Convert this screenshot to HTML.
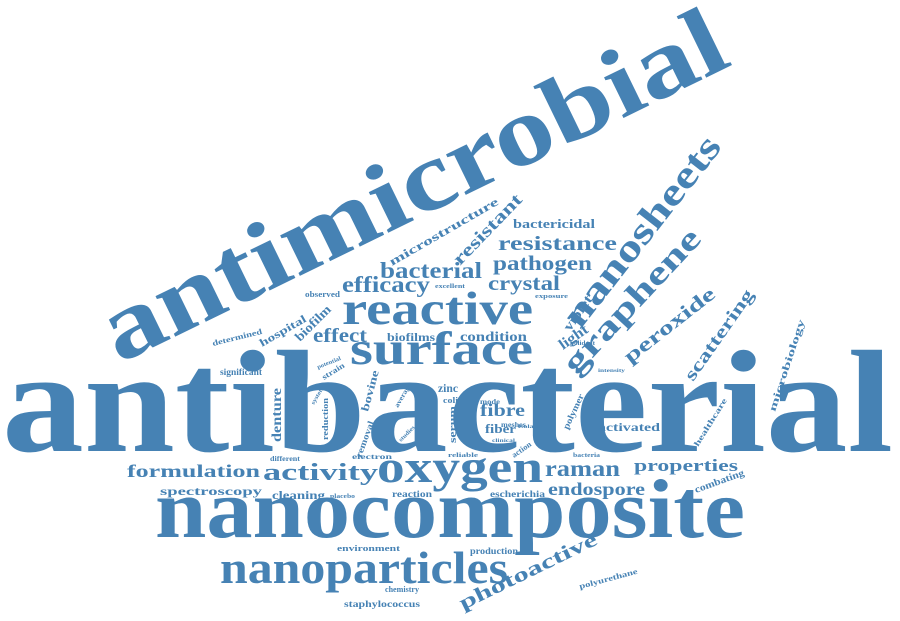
<!DOCTYPE html>
<html><head><meta charset="utf-8"><style>
html,body{margin:0;padding:0;background:#fff;width:900px;height:621px;overflow:hidden}
svg{display:block}
text{font-family:"Liberation Serif",serif;font-weight:bold;fill:#4682b4}
</style></head><body>
<svg width="900" height="621" viewBox="0 0 900 621">
<g>
<text x="2" y="451" font-size="146" textLength="891" lengthAdjust="spacingAndGlyphs">antibacterial</text>
<text transform="translate(119,364) rotate(-26)" font-size="98" textLength="684" lengthAdjust="spacingAndGlyphs">antimicrobial</text>
<text x="155" y="537" font-size="84" textLength="590" lengthAdjust="spacingAndGlyphs">nanocomposite</text>
<text x="220" y="583" font-size="45" textLength="288" lengthAdjust="spacingAndGlyphs">nanoparticles</text>
<text x="377" y="482" font-size="46" textLength="166" lengthAdjust="spacingAndGlyphs">oxygen</text>
<text x="350" y="364" font-size="47" textLength="183" lengthAdjust="spacingAndGlyphs">surface</text>
<text x="342" y="324" font-size="47" textLength="191" lengthAdjust="spacingAndGlyphs">reactive</text>
<text x="342" y="292" font-size="23" textLength="88" lengthAdjust="spacingAndGlyphs">efficacy</text>
<text x="313" y="342" font-size="20" textLength="54" lengthAdjust="spacingAndGlyphs">effect</text>
<text x="387" y="341" font-size="12" textLength="48" lengthAdjust="spacingAndGlyphs">biofilms</text>
<text x="460" y="341" font-size="14" textLength="67" lengthAdjust="spacingAndGlyphs">condition</text>
<text x="488" y="290" font-size="21" textLength="72" lengthAdjust="spacingAndGlyphs">crystal</text>
<text x="380" y="278" font-size="23" textLength="102" lengthAdjust="spacingAndGlyphs">bacterial</text>
<text x="493" y="270" font-size="21" textLength="99" lengthAdjust="spacingAndGlyphs">pathogen</text>
<text x="498" y="250" font-size="20" textLength="119" lengthAdjust="spacingAndGlyphs">resistance</text>
<text x="513" y="228" font-size="13" textLength="82" lengthAdjust="spacingAndGlyphs">bactericidal</text>
<text transform="translate(392,266) rotate(-30)" font-size="12" textLength="124" lengthAdjust="spacingAndGlyphs">microstructure</text>
<text transform="translate(460,266) rotate(-46)" font-size="18" textLength="91" lengthAdjust="spacingAndGlyphs">resistant</text>
<text transform="translate(580,330) rotate(-52)" font-size="38" textLength="232" lengthAdjust="spacingAndGlyphs">nanosheets</text>
<text transform="translate(576,376) rotate(-47)" font-size="33" textLength="186" lengthAdjust="spacingAndGlyphs">graphene</text>
<text transform="translate(630,364) rotate(-38)" font-size="20" textLength="110" lengthAdjust="spacingAndGlyphs">peroxide</text>
<text transform="translate(693,382) rotate(-55)" font-size="18" textLength="107" lengthAdjust="spacingAndGlyphs">scattering</text>
<text transform="translate(570,332) rotate(-55)" font-size="14" textLength="40" lengthAdjust="spacingAndGlyphs">violet</text>
<text transform="translate(563,350) rotate(-35)" font-size="15" textLength="32" lengthAdjust="spacingAndGlyphs">light</text>
<text transform="translate(262,347) rotate(-30)" font-size="11" textLength="52" lengthAdjust="spacingAndGlyphs">hospital</text>
<text transform="translate(300,342) rotate(-45)" font-size="13" textLength="45" lengthAdjust="spacingAndGlyphs">biofilm</text>
<text transform="translate(213,346) rotate(-14)" font-size="8" textLength="51" lengthAdjust="spacingAndGlyphs">determined</text>
<text x="305" y="297" font-size="8" textLength="35" lengthAdjust="spacingAndGlyphs">observed</text>
<text x="435" y="288" font-size="6" textLength="30" lengthAdjust="spacingAndGlyphs">excellent</text>
<text x="535" y="298" font-size="6" textLength="33" lengthAdjust="spacingAndGlyphs">exposure</text>
<text x="570" y="345" font-size="6" textLength="25" lengthAdjust="spacingAndGlyphs">polident</text>
<text x="598" y="372" font-size="5" textLength="27" lengthAdjust="spacingAndGlyphs">intensity</text>
<text transform="translate(318,369) rotate(-22)" font-size="6" textLength="25" lengthAdjust="spacingAndGlyphs">potential</text>
<text transform="translate(324,380) rotate(-32)" font-size="8" textLength="25" lengthAdjust="spacingAndGlyphs">strain</text>
<text x="220" y="375" font-size="9" textLength="42" lengthAdjust="spacingAndGlyphs">significant</text>
<text transform="translate(281,442) rotate(-90)" font-size="14" textLength="54" lengthAdjust="spacingAndGlyphs">denture</text>
<text transform="translate(314,405) rotate(-60)" font-size="6" textLength="20" lengthAdjust="spacingAndGlyphs">system</text>
<text transform="translate(328,440) rotate(-90)" font-size="8" textLength="42" lengthAdjust="spacingAndGlyphs">reduction</text>
<text transform="translate(368,412) rotate(-75)" font-size="11" textLength="42" lengthAdjust="spacingAndGlyphs">bovine</text>
<text transform="translate(361,458) rotate(-70)" font-size="9" textLength="38" lengthAdjust="spacingAndGlyphs">removal</text>
<text transform="translate(398,408) rotate(-60)" font-size="7" textLength="27" lengthAdjust="spacingAndGlyphs">average</text>
<text transform="translate(401,442) rotate(-45)" font-size="6" textLength="20" lengthAdjust="spacingAndGlyphs">studies</text>
<text x="352" y="459" font-size="7" textLength="40" lengthAdjust="spacingAndGlyphs">electron</text>
<text x="270" y="461" font-size="7" textLength="30" lengthAdjust="spacingAndGlyphs">different</text>
<text x="438" y="392" font-size="12" textLength="20" lengthAdjust="spacingAndGlyphs">zinc</text>
<text x="443" y="403" font-size="8" textLength="15" lengthAdjust="spacingAndGlyphs">coli</text>
<text transform="translate(456,443) rotate(-90)" font-size="11" textLength="37" lengthAdjust="spacingAndGlyphs">serum</text>
<text x="480" y="416" font-size="18" textLength="45" lengthAdjust="spacingAndGlyphs">fibre</text>
<text x="485" y="433" font-size="13" textLength="31" lengthAdjust="spacingAndGlyphs">fiber</text>
<text x="480" y="404" font-size="7" textLength="20" lengthAdjust="spacingAndGlyphs">mode</text>
<text x="501" y="427" font-size="7" textLength="25" lengthAdjust="spacingAndGlyphs">meshes</text>
<text x="518" y="428" font-size="5" textLength="22" lengthAdjust="spacingAndGlyphs">isolate</text>
<text x="492" y="442" font-size="5" textLength="23" lengthAdjust="spacingAndGlyphs">clinical</text>
<text transform="translate(514,458) rotate(-35)" font-size="8" textLength="22" lengthAdjust="spacingAndGlyphs">action</text>
<text x="448" y="457" font-size="6" textLength="30" lengthAdjust="spacingAndGlyphs">reliable</text>
<text x="573" y="457" font-size="6" textLength="27" lengthAdjust="spacingAndGlyphs">bacteria</text>
<text transform="translate(568,430) rotate(-65)" font-size="9" textLength="38" lengthAdjust="spacingAndGlyphs">polymer</text>
<text x="598" y="431" font-size="12" textLength="62" lengthAdjust="spacingAndGlyphs">activated</text>
<text transform="translate(698,447) rotate(-58)" font-size="8" textLength="55" lengthAdjust="spacingAndGlyphs">healthcare</text>
<text transform="translate(775,412) rotate(-72)" font-size="10" textLength="96" lengthAdjust="spacingAndGlyphs">microbiology</text>
<text x="545" y="476" font-size="23" textLength="75" lengthAdjust="spacingAndGlyphs">raman</text>
<text x="634" y="471" font-size="17" textLength="104" lengthAdjust="spacingAndGlyphs">properties</text>
<text x="548" y="495" font-size="18" textLength="97" lengthAdjust="spacingAndGlyphs">endospore</text>
<text transform="translate(696,493) rotate(-20)" font-size="10" textLength="52" lengthAdjust="spacingAndGlyphs">combating</text>
<text x="127" y="477" font-size="18" textLength="133" lengthAdjust="spacingAndGlyphs">formulation</text>
<text x="263" y="480" font-size="24" textLength="115" lengthAdjust="spacingAndGlyphs">activity</text>
<text x="160" y="495" font-size="12" textLength="102" lengthAdjust="spacingAndGlyphs">spectroscopy</text>
<text x="272" y="499" font-size="12" textLength="53" lengthAdjust="spacingAndGlyphs">cleaning</text>
<text x="330" y="498" font-size="6" textLength="25" lengthAdjust="spacingAndGlyphs">placebo</text>
<text x="392" y="497" font-size="9" textLength="40" lengthAdjust="spacingAndGlyphs">reaction</text>
<text x="490" y="497" font-size="9" textLength="55" lengthAdjust="spacingAndGlyphs">escherichia</text>
<text x="337" y="551" font-size="8" textLength="63" lengthAdjust="spacingAndGlyphs">environment</text>
<text x="470" y="554" font-size="9" textLength="48" lengthAdjust="spacingAndGlyphs">production</text>
<text transform="translate(463,610) rotate(-26)" font-size="20" textLength="151" lengthAdjust="spacingAndGlyphs">photoactive</text>
<text transform="translate(580,589) rotate(-15)" font-size="8" textLength="60" lengthAdjust="spacingAndGlyphs">polyurethane</text>
<text x="385" y="592" font-size="8" textLength="34" lengthAdjust="spacingAndGlyphs">chemistry</text>
<text x="344" y="607" font-size="9" textLength="76" lengthAdjust="spacingAndGlyphs">staphylococcus</text>
</g>
</svg>
</body></html>
